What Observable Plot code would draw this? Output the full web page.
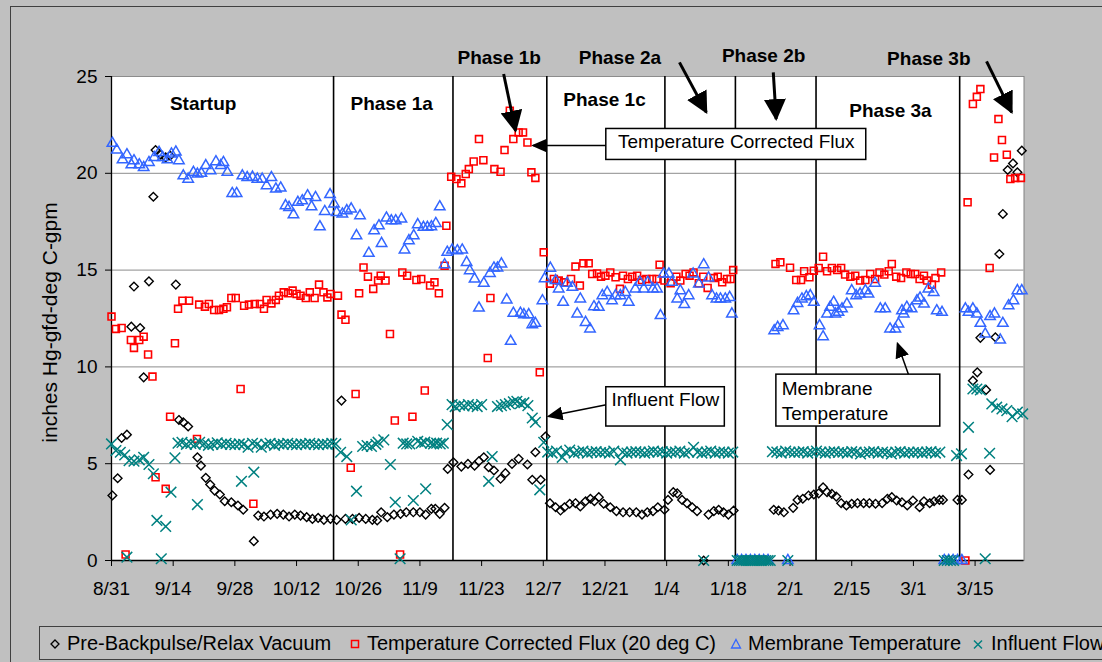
<!DOCTYPE html>
<html>
<head>
<meta charset="utf-8">
<script src="https://cdn.jsdelivr.net/npm/d3@7"></script>
<script src="https://cdn.jsdelivr.net/npm/@observablehq/plot@0.6"></script>
<style>
  html, body { margin: 0; padding: 0; background: #c0c0c0; }
  #chart { position: relative; width: 1102px; height: 662px; overflow: hidden;
           font-family: "Liberation Sans", Arial, sans-serif; color: #000; }
  #border { position: absolute; left: 10px; top: 6px; width: 1300px; height: 900px;
            border: 1px solid #404040; box-sizing: border-box; }
  #plot { position: absolute; left: 0; top: 0; }
  #legend { position: absolute; left: 39px; top: 626px; width: 1300px; height: 34px;
            border: 1px solid #404040; box-sizing: border-box; background: #c0c0c0; font-size: 20px; }
  #legend .mk { position: absolute; top: 11px; width: 12px; height: 12px; overflow: visible; }
  #legend .tx { position: absolute; top: 0; line-height: 32px; white-space: nowrap; }
</style>
</head>
<body>
<div id="chart">
  <div id="border"></div>
  <div id="plot"></div>
  <div id="legend"></div>
</div>
<script>
// Days are counted from 8/31; each series is a list of [day, value] readings.

const tickDays = [0, 14, 28, 42, 56, 70, 84, 98, 112, 126, 140, 154, 168, 182, 196];
const tickLabels = ["8/31", "9/14", "9/28", "10/12", "10/26", "11/9", "11/23", "12/7",
                    "12/21", "1/4", "1/18", "2/1", "2/15", "3/1", "3/15"];
const yTicks = [0, 5, 10, 15, 20, 25];

// Phase boundaries (days)
const phaseBoundaries = [50.4, 77.5, 98.8, 125.6, 141.6, 159.9, 192.5];

// Pre-Backpulse/Relax Vacuum (inches Hg)
const vacuum = [
  [0.2,3.36],[1.4,4.25],[2.3,6.33],[3.5,6.5],[4.5,12.08],[5.1,14.15],[6.5,12.01],[7.3,9.46],
  [8.5,14.42],[9.5,18.79],[10.0,21.2],[11.2,20.96],[12.3,20.82],[13.3,20.91],[14.6,14.25],
  [15.3,7.26],[16.3,7.14],[17.4,6.92],[19.5,5.33],[20.3,4.9],[21.4,4.27],[22.4,3.92],[23.4,3.61],
  [24.6,3.41],[25.7,3.06],[27.2,3.01],[28.7,2.84],[29.9,2.62],[32.3,1.0],[33.3,2.32],[34.6,2.27],
  [36.1,2.37],[37.6,2.41],[39.0,2.37],[40.3,2.27],[41.6,2.37],[42.9,2.32],[44.3,2.24],[45.6,2.15],
  [46.9,2.2],[48.2,2.1],[49.7,2.15],[51.1,2.1],[52.2,8.26],[53.1,2.15],[54.7,2.15],[56.2,2.2],
  [57.7,2.15],[59.2,2.1],[60.3,2.07],[61.2,2.49],[62.6,2.24],[64.1,2.37],[65.6,2.41],[66.9,2.49],
  [68.5,2.49],[70.0,2.49],[71.3,2.37],[72.6,2.67],[73.5,2.67],[74.5,2.41],[75.6,2.72],[76.3,4.73],
  [77.6,5.07],[79.4,4.85],[80.9,4.99],[82.4,4.9],[83.4,5.13],[84.5,5.33],[85.6,4.82],[86.8,4.65],
  [88.3,4.22],[89.4,4.51],[90.9,4.99],[92.4,5.25],[94.4,4.96],[95.5,4.17],[96.2,5.59],[97.4,4.17],
  [98.5,6.4],[99.5,2.96],[100.8,2.75],[101.9,2.58],[102.8,2.75],[104.0,2.93],[105.3,2.96],
  [106.4,2.79],[107.6,3.06],[108.7,3.19],[109.6,3.06],[110.6,3.27],[111.7,2.93],[113.2,2.75],
  [114.6,2.55],[116.1,2.49],[117.6,2.49],[119.1,2.49],[120.4,2.37],[121.6,2.49],[122.9,2.55],
  [124.0,2.75],[125.5,2.62],[126.3,3.13],[127.5,3.53],[128.4,3.47],[129.5,3.13],[130.6,2.96],
  [131.8,2.75],[132.9,2.55],[134.4,0],[135.5,2.37],[136.7,2.55],[137.8,2.62],[138.9,2.49],
  [140.0,2.37],[141.2,2.58],[150.3,2.62],[151.4,2.58],[152.6,2.49],[154.7,2.72],[155.7,3.13],
  [156.9,3.19],[158.2,3.36],[159.4,3.41],[160.5,3.47],[161.5,3.78],[162.4,3.53],[163.5,3.44],
  [164.5,3.3],[165.6,2.96],[166.8,2.84],[168.0,2.93],[169.3,2.96],[170.7,2.96],[172.0,2.96],
  [173.4,2.93],[174.9,2.96],[176.1,3.19],[177.1,3.27],[178.2,3.1],[179.4,3.01],[180.6,2.84],
  [181.9,3.1],[183.4,2.75],[184.4,3.06],[185.7,2.96],[186.7,3.06],[187.9,3.13],[188.7,3.13],
  [192.0,3.13],[193.0,3.13],[194.5,4.44],[195.5,9.29],[196.5,9.72],[197.2,11.5],[198.5,8.81],
  [199.4,4.68],[200.6,11.53],[201.5,15.83],[202.3,17.9],[203.4,20.17],[204.6,20.51],
  [205.6,20.05],[206.6,21.17]
];

// Temperature Corrected Flux (20 deg C), gfd
const flux = [
  [0.0,12.6],[1.0,11.96],[2.3,12.01],[3.2,0.31],[4.4,11.39],[5.1,10.98],[6.3,11.39],[7.3,11.56],
  [8.3,10.64],[9.3,9.5],[10.0,4.3],[12.3,3.7],[13.3,7.43],[14.4,11.22],[15.1,13.0],[16.1,13.42],
  [17.6,13.42],[19.4,6.28],[19.9,13.22],[21.2,13.11],[22.1,13.25],[23.3,12.94],[24.4,12.94],
  [25.4,13.0],[26.2,13.08],[27.2,13.56],[28.2,13.56],[29.3,8.86],[30.1,13.16],[31.2,13.22],
  [32.2,2.93],[32.5,13.25],[33.7,13.25],[34.6,13.0],[35.2,13.46],[36.3,13.28],[37.3,13.46],
  [38.0,13.68],[39.1,13.85],[40.1,13.8],[41.1,13.94],[42.0,13.77],[42.9,13.68],[44.1,13.56],
  [45.0,13.85],[46.1,13.56],[47.1,14.25],[48.1,13.85],[49.0,13.59],[49.7,13.77],[51.4,13.68],
  [52.2,12.7],[53.1,12.43],[54.3,4.79],[55.4,8.6],[56.2,13.8],[57.2,15.14],[58.2,14.66],
  [59.4,14.03],[60.5,14.46],[61.1,14.71],[62.2,14.46],[63.2,11.7],[64.3,7.23],[65.5,0.31],
  [66.0,14.88],[67.1,14.71],[68.3,7.43],[69.2,14.49],[70.3,14.54],[71.1,8.78],[72.3,14.2],
  [73.3,14.37],[74.3,13.8],[75.6,15.23],[76.0,17.29],[77.1,19.82],[78.3,19.7],[79.4,19.48],
  [80.4,19.96],[81.1,20.22],[82.2,20.61],[83.4,21.77],[84.4,20.68],[85.4,10.46],[86.0,13.56],
  [86.9,20.22],[88.3,20.08],[89.2,21.2],[90.4,23.23],[91.2,21.77],[92.4,22.11],[93.4,22.11],
  [94.4,21.59],[95.3,20.05],[96.2,19.76],[97.2,9.72],[98.1,15.92],[99.5,14.3],[100.4,14.54],
  [101.5,14.46],[102.7,14.37],[104.3,14.54],[105.3,15.18],[106.3,14.2],[107.1,15.35],
  [108.3,15.35],[109.1,14.8],[110.2,14.83],[111.1,14.66],[112.1,14.71],[113.2,14.88],
  [114.4,14.63],[115.4,14.03],[116.1,14.71],[117.2,14.54],[118.2,14.66],[119.3,14.71],
  [120.4,14.49],[121.4,14.54],[122.7,14.54],[123.7,14.54],[124.4,15.28],[125.5,14.46],
  [126.9,14.32],[128.2,14.66],[129.1,14.46],[130.3,14.8],[131.2,14.71],[132.1,14.88],
  [133.3,14.32],[134.3,14.66],[135.3,14.08],[136.7,14.59],[137.6,14.66],[138.6,14.37],
  [139.7,14.54],[140.5,14.54],[141.1,15.0],[150.7,15.32],[151.8,15.4],[154.0,15.12],
  [155.4,14.49],[156.5,14.49],[157.2,14.94],[158.4,14.63],[159.4,14.97],[160.5,15.11],
  [161.5,15.69],[162.4,14.94],[163.5,15.11],[164.7,15.0],[165.6,15.11],[166.5,14.77],
  [167.7,14.66],[168.8,14.71],[169.9,14.46],[171.1,14.49],[172.2,14.8],[173.3,14.54],
  [174.3,14.88],[175.4,14.77],[176.4,14.94],[177.1,15.32],[178.1,14.66],[179.2,14.59],
  [180.4,14.88],[181.4,14.8],[182.4,14.8],[183.4,14.54],[184.4,14.71],[185.1,14.46],
  [186.2,14.25],[187.0,14.59],[188.3,14.88],[193.8,0],[194.3,18.5],[195.5,23.58],[196.4,23.95],
  [197.2,24.35],[199.3,15.11],[200.3,20.82],[201.3,22.8],[202.1,21.72],[203.2,20.96],
  [204.0,19.7],[205.1,19.76],[206.4,19.76]
];

// Membrane Temperature, deg C
const membraneTemp = [
  [0.2,21.55],[1.2,21.2],[2.5,20.7],[3.5,20.96],[4.5,20.44],[5.1,20.65],[6.3,20.44],[7.3,20.3],
  [8.5,20.56],[9.7,20.82],[10.8,21.08],[11.6,20.82],[12.7,20.7],[13.6,21.0],[14.6,21.1],
  [15.3,20.65],[16.3,19.87],[17.4,19.7],[18.6,20.05],[19.5,19.96],[20.4,20.0],[21.4,20.4],
  [22.5,20.13],[23.7,20.6],[24.8,20.4],[25.4,20.56],[26.3,20.05],[27.4,18.96],[28.4,18.96],
  [29.7,19.87],[30.8,19.78],[32.0,19.8],[33.1,19.7],[34.2,19.7],[35.2,19.36],[36.3,19.78],
  [37.3,19.19],[38.4,19.24],[39.5,18.33],[40.3,18.24],[41.3,17.86],[42.3,18.5],[43.3,18.58],
  [44.5,18.84],[45.4,18.27],[46.3,18.75],[47.3,17.24],[48.4,18.03],[49.6,18.9],[50.5,18.42],
  [51.1,17.98],[52.4,17.9],[53.4,18.07],[54.4,18.16],[55.6,16.78],[56.4,17.81],[58.4,15.87],
  [59.6,17.04],[60.7,17.29],[61.3,16.38],[62.4,17.69],[63.5,17.55],[64.5,17.55],[65.8,17.64],
  [66.5,16.04],[67.5,16.52],[68.6,16.78],[69.5,17.35],[70.8,17.21],[71.7,17.21],[72.6,17.24],
  [73.6,17.41],[74.5,18.27],[75.6,15.28],[76.2,15.92],[77.3,16.04],[78.5,16.0],[79.6,16.04],
  [80.6,15.4],[81.3,14.97],[82.4,14.54],[83.4,13.04],[84.5,14.32],[85.9,14.83],[86.8,15.11],
  [87.6,15.11],[88.5,15.32],[89.7,13.46],[90.6,11.32],[91.2,12.77],[92.8,12.77],[93.6,12.7],
  [94.7,12.7],[95.5,12.18],[96.2,12.25],[97.8,13.42],[98.3,14.56],[99.6,15.1],[100.8,14.46],
  [101.5,14.03],[102.5,13.34],[103.4,14.32],[104.6,14.11],[105.7,12.74],[106.4,13.51],
  [107.6,12.3],[108.6,11.96],[109.5,13.11],[110.6,13.08],[111.4,13.68],[112.5,13.85],
  [113.6,13.42],[114.4,13.68],[115.5,13.68],[116.6,13.85],[117.4,13.34],[118.9,14.03],
  [119.9,14.37],[120.8,14.03],[121.7,14.37],[122.9,14.03],[123.8,14.03],[124.6,12.65],
  [125.3,14.8],[126.5,14.8],[127.2,14.37],[128.4,13.51],[129.1,13.94],[130.0,13.22],
  [131.0,13.68],[132.0,14.8],[133.3,14.28],[134.4,15.28],[135.5,14.59],[136.3,13.68],
  [137.3,13.51],[138.2,13.51],[139.3,13.51],[140.3,13.59],[140.8,12.74],
  [142.0,0],[143.0,0],[144.0,0],[145.0,0],[146.0,0],[147.0,0],[148.0,0],[149.0,0],
  [150.4,11.87],[151.2,12.04],[152.4,12.13],[153.5,0],[154.8,12.9],[155.7,13.28],[156.7,13.51],
  [157.7,13.63],[158.6,13.68],[159.4,13.34],[160.7,12.13],[161.5,11.56],[162.4,12.74],
  [163.1,13.08],[163.9,13.34],[164.3,12.74],[165.0,12.82],[165.8,13.0],[166.9,13.25],
  [168.0,13.94],[169.0,13.68],[169.9,13.77],[171.1,13.94],[171.8,13.77],[173.3,14.32],
  [174.5,13.0],[175.6,13.0],[176.7,11.96],[177.9,11.96],[178.6,12.22],[179.4,12.9],
  [179.8,12.74],[180.5,13.08],[181.6,13.0],[182.8,13.42],[183.5,13.56],[184.4,13.25],
  [185.4,14.03],[186.6,13.85],[187.3,12.9],[188.5,12.82],
  [189.0,0],[190.0,0],[191.0,0],[192.0,0],[193.0,0],
  [193.8,13.0],[194.5,12.82],[195.5,13.0],[196.4,12.74],[197.2,12.25],[198.3,11.7],[199.4,12.6],
  [200.4,12.74],[201.7,11.39],[202.3,12.25],[203.6,13.16],[204.7,13.42],[205.6,13.94],[206.6,13.94]
];

// Influent Flow, gpm
const influentFlow = [
  [0.0,6.02],[1.0,5.68],[2.0,5.59],[3.0,5.45],[3.5,0.17],[4.0,5.16],[5.1,5.13],[6.3,5.2],
  [7.3,5.33],[8.5,4.96],[9.5,4.48],[10.3,2.07],[11.3,0.09],[12.3,1.76],[13.5,3.53],[14.4,5.3],
  [15.1,6.06],[16,6.1],[17,6.0],[18,6.05],[19,6.0],[19.5,2.89],[20,6.1],[21,6.02],[22,5.95],
  [23,6.0],[24,6.08],[25,6.0],[26,6.05],[27,6.0],[28,5.98],[29,6.02],[29.5,4.09],[30,6.0],
  [31,5.85],[32,6.05],[32.3,4.56],[33,6.0],[34,5.85],[35,6.0],[36,6.05],[37,5.95],[38,6.02],
  [39,6.0],[40,6.05],[41,6.0],[42,5.98],[43,6.02],[44,6.0],[45,6.05],[46,6.0],[47,5.98],
  [48,6.02],[49,6.0],[50,6.05],[50.9,6.02],[52.0,5.59],[53.4,5.37],[54.4,2.1],[55.6,3.58],
  [57,5.89],[58,5.94],[59,5.89],[60,6.0],[60.5,6.11],[61.8,6.23],[63.3,4.96],[64.4,3.01],
  [65.5,0.09],[66.2,6.06],[67,6.02],[67.7,6.02],[68.5,3.1],[69.5,6.16],[70.3,6.06],[71.1,6.11],
  [71.3,3.7],[72.4,6.06],[73.1,6.02],[73.8,6.06],[74.6,6.02],[75.3,6.06],[76.2,7.02],
  [77.3,8.05],[78,7.95],[79,8.02],[80,7.98],[81,8.05],[82,8.0],[83,7.95],[84,8.05],[85.6,4.09],
  [86.4,5.37],[87.6,7.95],[88.5,8.0],[89.4,8.05],[90.3,8.1],[91.2,8.2],[92,8.22],[92.8,8.1],
  [93.6,8.15],[94.5,8.0],[95.5,7.36],[96.2,7.14],[97.2,3.65],[98.1,6.1],
  [99,5.6],[100,5.55],[101,5.65],[102.3,5.33],[103,5.6],[104,5.7],[105,5.55],[106,5.6],
  [107,5.65],[108,5.55],[109,5.6],[110,5.62],[111,5.58],[112,5.6],[113,5.55],[114,5.65],
  [115.5,5.2],[116,5.6],[117,5.55],[118,5.6],[119,5.62],[120,5.6],[121,5.55],[122,5.6],
  [123,5.65],[124,5.6],[125,5.62],[126,5.55],[127,5.6],[128,5.6],[129,5.65],[130,5.55],
  [131,5.6],[132.1,5.85],[133,5.6],[134,5.55],[134.4,0],[135,5.6],[136,5.65],[137,5.55],
  [138,5.6],[139,5.6],[140,5.55],[141,5.6],
  [142,0],[142.5,0],[143,0],[143.5,0],[144,0],[144.5,0],[145,0],[145.5,0],[146,0],[146.5,0],
  [147,0],[147.5,0],[148,0],[148.5,0],[149,0],[149.5,0],
  [150,5.62],[151,5.6],[152,5.55],[153,5.65],[153.5,0],[154,5.6],[155,5.58],[156,5.6],
  [157,5.62],[158,5.55],[159,5.6],[160,5.65],[161,5.6],[162,5.55],[163,5.6],[164,5.62],
  [165,5.58],[166,5.6],[167,5.55],[168,5.62],[169,5.6],[170,5.5],[171,5.58],[172,5.6],
  [173,5.62],[174,5.55],[175,5.6],[176,5.58],[177,5.5],[178,5.6],[179,5.62],[180,5.55],
  [181,5.6],[182,5.58],[183,5.6],[184,5.55],[185,5.6],[186,5.62],[187,5.55],[188,5.6],
  [189,0],[189.7,0],[190.4,0],[191.1,0],[191.8,5.42],[192.9,5.51],[194.5,6.88],[195.5,8.86],
  [196.4,8.86],[197.2,8.81],[198.3,0.09],[199.3,5.54],[199.8,8.09],[200.9,7.92],[202.1,7.83],
  [203.2,7.74],[204.4,7.43],[205.6,7.66],[206.8,7.57]
];

// Annotations, placed in chart units (day, value)
const phaseLabels = [
  ["Startup", 20.8, 23.56], ["Phase 1a", 63.6, 23.56], ["Phase 1b", 88.0, 25.94],
  ["Phase 1c", 111.9, 23.77], ["Phase 2a", 115.4, 25.94], ["Phase 2b", 148.0, 26.06],
  ["Phase 3a", 176.8, 23.22], ["Phase 3b", 185.5, 25.93]
];
const phaseArrows = [
  [89.0, 25.13, 91.7, 22.2], [128.9, 25.73, 135.0, 23.15],
  [150.2, 25.21, 150.85, 22.8], [198.6, 25.78, 204.3, 23.15]
];
const calloutBoxes = [
  ["Temperature Corrected Flux", 112.3, 171.3, 20.69, 22.29],
  ["Influent Flow", 112.3, 139.2, 6.92, 8.95],
  ["Membrane\nTemperature", 150.9, 188.1, 6.92, 9.6]
];
const centeredCallouts = [
  ["Temperature Corrected Flux", 141.8, 21.62],
  ["Influent Flow", 125.7, 8.3]
];
const leftCallouts = [
  ["Membrane\nTemperature", 152.1, 8.3]
];
const calloutArrows = [
  [112.3, 21.43, 95.7, 21.43], [112.3, 8.05, 99.2, 7.45], [180.9, 9.6, 178.4, 11.2]
];
const yTitle = "inches Hg-gfd-deg C-gpm";

const legendItems = [
  ["diamond", "Pre-Backpulse/Relax Vacuum", 53.6, 66],
  ["square", "Temperature Corrected Flux (20 deg C)", 353.6, 366],
  ["triangle", "Membrane Temperature", 735.3, 747],
  ["times", "Influent Flow", 977.3, 990]
];

const colors = {diamond: "#000000", square: "#ff0000", triangle: "#3366ff", times: "#008080"};
const labelByDay = new Map(tickDays.map((d, i) => [d, tickLabels[i]]));

const chart = Plot.plot({
  width: 1102,
  height: 622,
  marginLeft: 111,
  marginRight: 78.5,
  marginTop: 76,
  marginBottom: 62,
  style: {background: "transparent", fontFamily: "'Liberation Sans', Arial, sans-serif",
          fontSize: "19px", color: "#000", overflow: "visible"},
  x: {domain: [0, 207.1], ticks: tickDays, tickFormat: d => labelByDay.get(d),
      tickSize: 6, tickPadding: 15, label: null},
  y: {domain: [0, 25], ticks: yTicks, tickSize: 6, tickPadding: 8, label: null},
  marks: [
    Plot.frame({fill: "white", stroke: "#808080"}),
    Plot.ruleY(yTicks, {stroke: "#8c8c8c", strokeWidth: 1}),
    Plot.ruleX(phaseBoundaries, {stroke: "#000", strokeWidth: 1.6}),
    Plot.ruleX([0], {stroke: "#000", strokeWidth: 1.3}),
    Plot.ruleY([0], {stroke: "#000", strokeWidth: 1.3}),

    Plot.dot(vacuum, {x: d => d[0], y: d => d[1], symbol: "diamond2", r: 3.9,
                      stroke: colors.diamond, fill: "none", strokeWidth: 1.4}),
    Plot.dot(flux, {x: d => d[0], y: d => d[1], symbol: "square2", r: 4.4,
                    stroke: colors.square, fill: "none", strokeWidth: 1.6}),
    Plot.dot(membraneTemp, {x: d => d[0], y: d => d[1], symbol: "triangle2", r: 5,
                            stroke: colors.triangle, fill: "none", strokeWidth: 1.5}),
    Plot.dot(influentFlow, {x: d => d[0], y: d => d[1], symbol: "times", r: 4.9,
                            stroke: colors.times, fill: "none", strokeWidth: 1.5}),

    Plot.text(phaseLabels, {x: d => d[1], y: d => d[2], text: d => d[0],
                            fontWeight: "bold", fill: "#000"}),
    Plot.link(phaseArrows, {x1: d => d[0], y1: d => d[1], x2: d => d[2], y2: d => d[3],
                            stroke: "#000", strokeWidth: 3, ariaDescription: "phase arrows"}),

    Plot.link(calloutArrows, {x1: d => d[0], y1: d => d[1], x2: d => d[2], y2: d => d[3],
                              stroke: "#000", strokeWidth: 1.5, ariaDescription: "callout arrows"}),
    Plot.rect(calloutBoxes, {x1: d => d[1], x2: d => d[2], y1: d => d[3], y2: d => d[4],
                             fill: "white", stroke: "#000", strokeWidth: 1.5}),
    Plot.text(centeredCallouts, {x: d => d[1], y: d => d[2], text: d => d[0],
                                 textAnchor: "middle", fill: "#000"}),
    Plot.text(leftCallouts, {x: d => d[1], y: d => d[2], text: d => d[0],
                             textAnchor: "start", lineHeight: 1.28, fill: "#000"}),

    Plot.text([yTitle], {frameAnchor: "left", text: d => d, rotate: -90, textAnchor: "middle",
                         dx: -61, dy: 4, fontSize: 21, fill: "#000"})
  ]
});

// Filled arrowheads for the annotation arrows
const ns = "http://www.w3.org/2000/svg";
const defs = document.createElementNS(ns, "defs");
function arrowHead(id, len, wid) {
  const m = document.createElementNS(ns, "marker");
  m.setAttribute("id", id);
  m.setAttribute("markerUnits", "userSpaceOnUse");
  m.setAttribute("markerWidth", len);
  m.setAttribute("markerHeight", wid);
  m.setAttribute("viewBox", `0 ${-wid / 2} ${len} ${wid}`);
  m.setAttribute("refX", len - 2);
  m.setAttribute("refY", 0);
  m.setAttribute("orient", "auto");
  const p = document.createElementNS(ns, "path");
  p.setAttribute("d", `M0,${-wid / 2}L${len},0L0,${wid / 2}Z`);
  p.setAttribute("fill", "#000");
  m.appendChild(p);
  defs.appendChild(m);
}
arrowHead("head-large", 22, 22);
arrowHead("head-small", 16, 14);
chart.insertBefore(defs, chart.firstChild);
chart.querySelectorAll('g[aria-description="phase arrows"] path')
  .forEach(p => p.setAttribute("marker-end", "url(#head-large)"));
chart.querySelectorAll('g[aria-description="callout arrows"] path')
  .forEach(p => p.setAttribute("marker-end", "url(#head-small)"));

document.getElementById("plot").appendChild(chart);

// Legend
const legend = document.getElementById("legend");
const legendLeft = 39;
function legendSymbol(kind) {
  const c = colors[kind];
  switch (kind) {
    case "diamond": return `<path d="M6,2L10,6L6,10L2,6Z" fill="none" stroke="${c}" stroke-width="1.3"/>`;
    case "square": return `<rect x="2.5" y="2.5" width="7" height="7" fill="none" stroke="${c}" stroke-width="1.5"/>`;
    case "triangle": return `<path d="M6,1.5L10.5,10L1.5,10Z" fill="none" stroke="${c}" stroke-width="1.3"/>`;
    default: return `<path d="M2,2.5L10,10.5M10,2.5L2,10.5" stroke="${c}" stroke-width="1.5"/>`;
  }
}
for (const [kind, label, cx, tx] of legendItems) {
  const s = document.createElementNS(ns, "svg");
  s.setAttribute("class", "mk");
  s.setAttribute("viewBox", "0 0 12 12");
  s.style.left = (cx - legendLeft - 6) + "px";
  s.innerHTML = legendSymbol(kind);
  legend.appendChild(s);
  const t = document.createElement("span");
  t.className = "tx";
  t.style.left = (tx - legendLeft) + "px";
  t.textContent = label;
  legend.appendChild(t);
}
</script>
</body>
</html>
